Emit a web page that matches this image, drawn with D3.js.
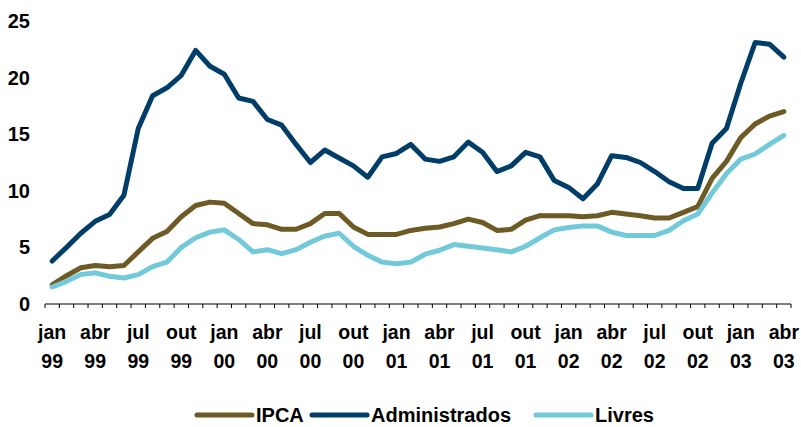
<!DOCTYPE html>
<html>
<head>
  <meta charset="utf-8">
  <title>IPCA, Administrados e Livres</title>
  <script src="https://d3js.org/d3.v7.min.js"></script>
  <style>
    body { margin: 0; background: white; }
    text { font-family: "Liberation Sans", Arial, sans-serif; font-weight: bold; fill: #000; }
  </style>
</head>
<body>
<script>
  // Data: monthly, jan 99 .. abr 03
  var monthNames = ["jan","fev","mar","abr","mai","jun","jul","ago","set","out","nov","dez"];
  var years = ["99","00","01","02","03"];
  var months = [];
  years.forEach(function(y, yi) {
    monthNames.forEach(function(m, mi) {
      if (yi < 4 || mi < 4) months.push(m + " " + y);
    });
  });

  var ipca = [1.7, 2.5, 3.2, 3.4, 3.3, 3.4, 4.6, 5.8, 6.4, 7.7, 8.7, 9.0, 8.9, 8.0, 7.1, 7.0,
              6.6, 6.6, 7.1, 8.0, 8.0, 6.8, 6.15, 6.15, 6.15, 6.5, 6.7, 6.8, 7.1, 7.5, 7.2, 6.5,
              6.6, 7.4, 7.8, 7.8, 7.8, 7.7, 7.8, 8.1, 7.95, 7.8, 7.6, 7.6, 8.1, 8.6, 11.1, 12.6,
              14.7, 15.9, 16.6, 17.0];
  var administrados = [3.8, 5.0, 6.25, 7.3, 7.9, 9.6, 15.5, 18.4, 19.1, 20.2, 22.4, 21.0, 20.3, 18.2, 17.9, 16.3,
                       15.8, 14.1, 12.5, 13.6, 12.9, 12.2, 11.2, 13.0, 13.3, 14.1, 12.8, 12.6, 13.0, 14.3, 13.4, 11.7,
                       12.2, 13.4, 13.0, 10.9, 10.3, 9.3, 10.6, 13.1, 12.95, 12.5, 11.7, 10.8, 10.2, 10.2, 14.2, 15.5,
                       19.5, 23.1, 22.95, 21.8];
  var livres = [1.5, 2.0, 2.6, 2.75, 2.45, 2.3, 2.6, 3.3, 3.7, 5.0, 5.85, 6.35, 6.55, 5.7, 4.6, 4.8,
                4.45, 4.8, 5.45, 6.0, 6.25, 5.1, 4.3, 3.7, 3.55, 3.7, 4.4, 4.75, 5.25, 5.1, 4.95, 4.8,
                4.6, 5.1, 5.85, 6.55, 6.75, 6.9, 6.9, 6.35, 6.05, 6.05, 6.05, 6.5, 7.35, 7.95, 9.8, 11.5,
                12.8, 13.25, 14.1, 14.9];

  var seriesNames = ["IPCA", "Administrados", "Livres"];
  var seriesColors = ["#6E5A25", "#003D68", "#72C9D9"];
  var yTicks = [0, 5, 10, 15, 20, 25];

  var width = 801, height = 427;
  var plot = {left: 45, right: 791, top: 21, bottom: 304};

  var svg = d3.select("body").append("svg")
      .attr("width", width)
      .attr("height", height);

  // Scales
  var x = d3.scaleBand().domain(d3.range(months.length)).range([plot.left, plot.right]);
  var y = d3.scaleLinear().domain([0, 25]).range([plot.bottom, plot.top]);

  // y labels (no axis line)
  svg.append("g").selectAll("text")
      .data(yTicks)
      .enter().append("text")
      .attr("x", 30)
      .attr("y", function(d) { return y(d); })
      .attr("dy", "0.35em")
      .attr("text-anchor", "end")
      .style("font-size", "20px")
      .text(function(d) { return d; });

  // x axis line + month ticks at band edges
  var xAxis = svg.append("g");
  xAxis.append("line")
      .attr("x1", plot.left).attr("x2", plot.right)
      .attr("y1", plot.bottom).attr("y2", plot.bottom)
      .attr("stroke", "#000").attr("stroke-width", 1);
  var edges = d3.range(months.length + 1).map(function(i) {
    return i < months.length ? x(i) : plot.right;
  });
  xAxis.selectAll(".tick").data(edges).enter().append("line")
      .attr("x1", function(d) { return d; }).attr("x2", function(d) { return d; })
      .attr("y1", plot.bottom).attr("y2", plot.bottom + 4)
      .attr("stroke", "#000").attr("stroke-width", 1);

  // quarter labels, two rows
  var labelled = d3.range(0, months.length, 3);
  var lab = xAxis.selectAll(".lab").data(labelled).enter().append("text")
      .attr("text-anchor", "middle")
      .style("font-size", "19.5px");
  lab.append("tspan")
      .attr("x", function(i) { return x(i) + x.bandwidth() / 2; })
      .attr("y", 339)
      .text(function(i) { return months[i].split(" ")[0]; });
  lab.append("tspan")
      .attr("x", function(i) { return x(i) + x.bandwidth() / 2; })
      .attr("y", 368)
      .text(function(i) { return months[i].split(" ")[1]; });

  // Lines
  var line = d3.line()
      .x(function(d, i) { return x(i) + x.bandwidth() / 2; })
      .y(function(d) { return y(d); });

  [ipca, administrados, livres].forEach(function(s, k) {
    svg.append("path")
        .datum(s)
        .attr("fill", "none")
        .attr("stroke", seriesColors[k])
        .attr("stroke-width", 5)
        .attr("stroke-linejoin", "round")
        .attr("stroke-linecap", "round")
        .attr("d", line);
  });

  // Legend
  var legendX = [197, 312, 536];
  var legend = svg.append("g");
  seriesNames.forEach(function(n, k) {
    legend.append("line")
        .attr("x1", legendX[k]).attr("x2", legendX[k] + 55)
        .attr("y1", 415).attr("y2", 415)
        .attr("stroke", seriesColors[k])
        .attr("stroke-width", 5)
        .attr("stroke-linecap", "round");
    legend.append("text")
        .attr("x", legendX[k] + 59)
        .attr("y", 422)
        .style("font-size", "20px")
        .text(n);
  });
</script>
</body>
</html>
